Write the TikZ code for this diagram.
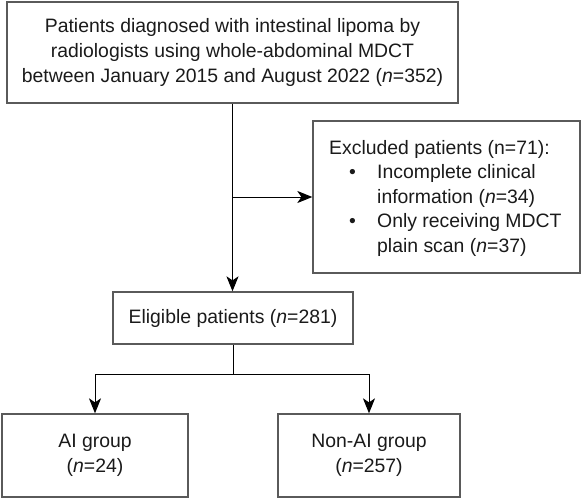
\documentclass[tikz,border=0pt]{standalone}
\usepackage{fontspec}
\setmainfont{Liberation Sans}
\usetikzlibrary{arrows.meta}
\definecolor{boxgray}{HTML}{5A5A5A}
\definecolor{txt}{HTML}{1A1A1A}
\newcommand{\fsz}{\fontsize{19.4}{24.6}\selectfont}
\begin{document}
\begin{tikzpicture}[x=1pt,y=-1pt,
  box/.style={draw=boxgray, line width=1.3pt, rectangle, inner sep=0pt, align=center, font=\fsz, text=txt},
  lbl/.style={inner sep=0pt, font=\fsz, text=txt},
  conn/.style={line width=1pt, black},
  arr/.style={conn, -{Stealth[length=15pt,width=12pt,inset=4pt]}}]
\useasboundingbox (0,0) rectangle (582,498);
\node[box, minimum width=451, minimum height=101] (top) at (232.5,52.5)
  {Patients diagnosed with intestinal lipoma by\\radiologists using whole-abdominal MDCT\\between January 2015 and August 2022 (\textit{n}=352)};
\node[box, minimum width=267, minimum height=152] (exc) at (446.5,197) {};
\node[lbl, anchor=base west] (exctext) at (329,154) {%
  \begin{tabular}[t]{@{}l@{}}
  Excluded patients (n=71):\\
  \makebox[48pt][l]{\hspace{20pt}\textbullet}Incomplete clinical\\
  \hspace*{48pt}information (\textit{n}=34)\\
  \makebox[48pt][l]{\hspace{20pt}\textbullet}Only receiving MDCT\\
  \hspace*{48pt}plain scan (\textit{n}=37)
  \end{tabular}};
\node[box, minimum width=240, minimum height=52] (elig) at (233,318) {Eligible patients (\textit{n}=281)};
\node[box, minimum width=186, minimum height=83] (ai) at (95,455.5) {AI group\\(\textit{n}=24)};
\node[box, minimum width=182, minimum height=83] (non) at (369,455.5) {Non-AI group\\(\textit{n}=257)};
\coordinate (split) at (233,374);
\draw[arr] (top.south) -- (top.south |- elig.north);
\draw[arr] (top.south |- exc.west) -- (exc.west);
\draw[conn] (elig.south) -- (split);
\draw[arr] (split) -| (ai.north);
\draw[arr] (split) -| (non.north);
\end{tikzpicture}
\end{document}
